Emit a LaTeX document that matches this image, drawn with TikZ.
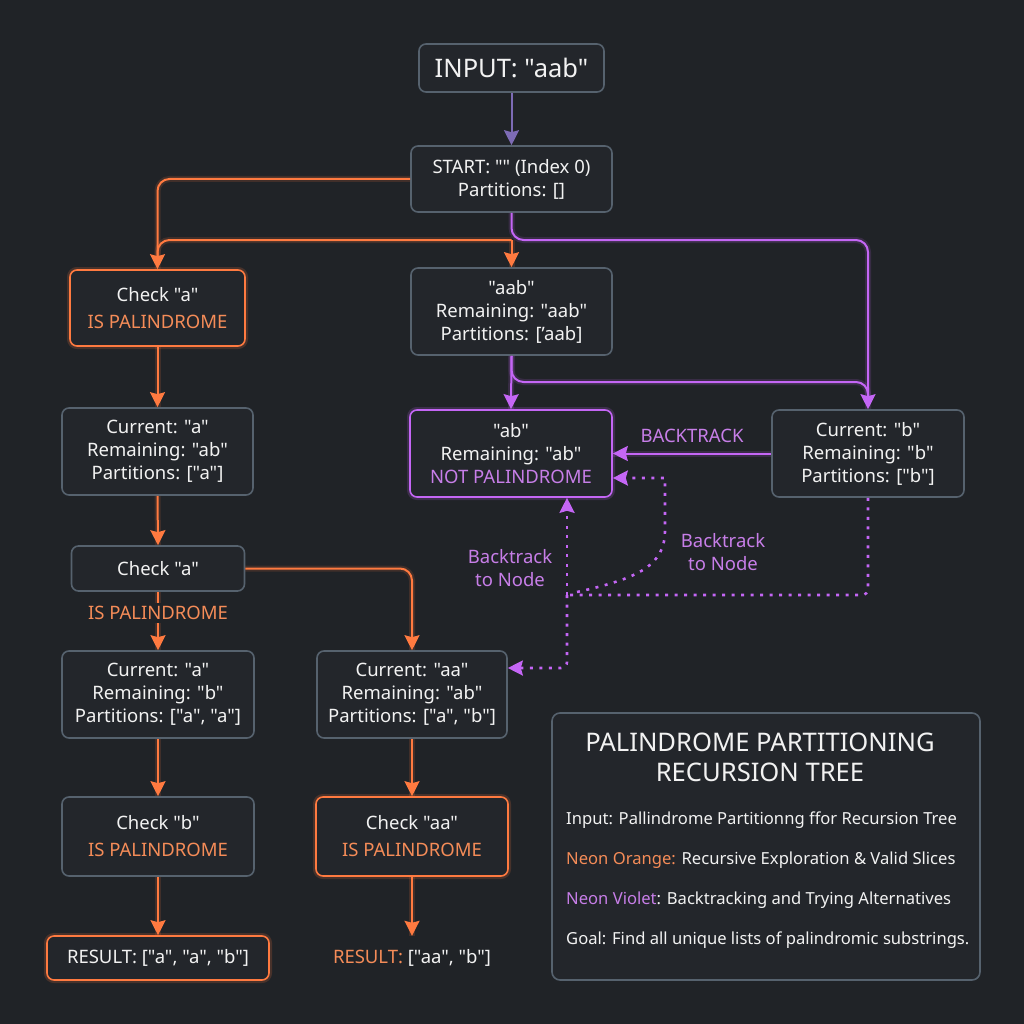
\documentclass[tikz,border=0pt]{standalone}
\usepackage{fontspec}
\setmainfont{Noto Sans}[Ligatures=TeXOff]
\usetikzlibrary{arrows.meta,calc}
\definecolor{bg}{HTML}{202327}
\definecolor{nfill}{HTML}{23262B}
\definecolor{gb}{HTML}{56626E}
\definecolor{org}{HTML}{FF7A40}
\definecolor{orgt}{HTML}{F58C58}
\definecolor{vio}{HTML}{C466F5}
\definecolor{viot}{HTML}{C77EE8}
\definecolor{mvio}{HTML}{7D6BB5}
\definecolor{txt}{HTML}{F2F2F2}
\newcommand\bodyfs{\fontsize{18.5}{23}\selectfont}
\newcommand\legfs{\fontsize{16.6}{19}\selectfont}
\tikzset{
  box/.style={draw=gb, fill=nfill, rounded corners=7pt, line width=1.6pt, align=center, text=txt, font=\bodyfs, inner sep=0pt},
  obox/.style={box, draw=org, preaction={draw=org, line width=6pt, opacity=0.18}},
  vbox/.style={box, draw=vio, preaction={draw=vio, line width=6pt, opacity=0.18}},
  tip/.style={-{Stealth[length=15pt,width=15pt,inset=2pt]}},
  oline/.style={draw=org, line width=2pt, preaction={draw=org, line width=6pt, opacity=0.15, -}},
  vline/.style={draw=vio, line width=2pt, preaction={draw=vio, line width=6pt, opacity=0.15, -}},
  vdot/.style={draw=vio, line width=2.6pt, dash pattern=on 3pt off 6.5pt},
  lbl/.style={font=\bodyfs, align=center},
}
\begin{document}
\begin{tikzpicture}[x=1pt,y=-1pt]
\fill[bg] (0,0) rectangle (1024,1024);
\useasboundingbox (0,0) rectangle (1024,1024);

% nodes
\node[box, minimum width=185pt, minimum height=48pt, font=\fontsize{25.5}{28}\selectfont] (in) at (511.5,68) {INPUT: "aab"};
\node[box, minimum width=201pt, minimum height=66pt] (st) at (511.5,179) {START: "" (Index 0)\\Partitions: []};
\node[obox, minimum width=175pt, minimum height=76pt] (ca1) at (157.5,308) {Check "a"\\[4pt]\textcolor{orgt}{IS PALINDROME}};
\node[box, minimum width=201pt, minimum height=87pt] (aab) at (511.5,311.5) {"aab"\\Remaining: "aab"\\Partitions: [’aab]};
\node[box, minimum width=191pt, minimum height=87pt] (cur1) at (157.5,451.5) {Current: "a"\\Remaining: "ab"\\Partitions: ["a"]};
\node[vbox, minimum width=202pt, minimum height=87pt] (ab) at (511,453.5) {"ab"\\Remaining: "ab"\\\textcolor{viot}{NOT PALINDROME}};
\node[box, minimum width=192pt, minimum height=87pt] (curb) at (868,453.5) {Current: "b"\\Remaining: "b"\\Partitions: ["b"]};
\node[box, minimum width=173pt, minimum height=45pt] (ca2) at (158,568.5) {Check "a"};
\node[box, minimum width=192pt, minimum height=87pt] (cur2) at (158,694.5) {Current: "a"\\Remaining: "b"\\Partitions: ["a", "a"]};
\node[box, minimum width=190pt, minimum height=87pt] (curaa) at (412,694.5) {Current: "aa"\\Remaining: "ab"\\Partitions: ["a", "b"]};
\node[box, minimum width=192pt, minimum height=79pt] (cb) at (158,836.5) {Check "b"\\[4pt]\textcolor{orgt}{IS PALINDROME}};
\node[obox, minimum width=192pt, minimum height=79pt] (caa) at (412,836.5) {Check "aa"\\[4pt]\textcolor{orgt}{IS PALINDROME}};
\node[obox, minimum width=222pt, minimum height=44pt] (res1) at (158,958) {RESULT: ["a", "a", "b"]};
\node[lbl, text=txt, minimum height=44pt] (res2) at (412,958) {\textcolor{orgt}{RESULT:} ["aa", "b"]};

% coordinates
\coordinate (j1) at (511.5,240);
\coordinate (j2) at (511.5,382);
\coordinate (j3) at (868,400);
\coordinate (j4) at (567,595);
\coordinate (j5) at (567,668);
\coordinate (j6) at (665,478);
\coordinate (j7) at (577,592);

% edges top
\draw[draw=mvio, line width=2pt, tip] (in.south) -- (st.north);
\draw[oline, tip, rounded corners=12pt] (st.west) -| (ca1.north);
\draw[oline, rounded corners=12pt] (j1) -| (157.5,262);
\draw[oline, tip] (j1) -- (aab.north);
\draw[vline, tip, rounded corners=12pt] (st.south) -- (j1) -| (curb.north);
\draw[vline, tip] (aab.south) -- (ab.north);
\draw[vline, rounded corners=12pt] (aab.south) -- (j2) -| (j3);

% left column
\draw[oline, tip] (ca1.south) -- (cur1.north);
\draw[oline, tip] (cur1.south) -- (ca2.north);
\draw[oline, tip] (ca2.south) -- node[fill=bg, text=orgt, font=\bodyfs, inner sep=3pt, pos=0.36] (isp) {IS PALINDROME} (cur2.north);
\draw[oline, tip, rounded corners=12pt] (ca2.east) -| (curaa.north);
\draw[oline, tip] (cur2.south) -- (cb.north);
\draw[oline, tip] (cb.south) -- (res1.north);
\draw[oline, tip] (curaa.south) -- (caa.north);
\draw[oline, tip] (caa.south) -- (res2.north);

% backtrack
\draw[vline, tip] (curb.west) -- node[above=6pt, text=viot, font=\bodyfs] (bt) {BACKTRACK} (ab.east);
\draw[vdot, rounded corners=6pt] (curb.south) |- (j4);
\draw[vdot, tip] (j4) -- (j4 |- ab.south);
\draw[vdot, tip, rounded corners=6pt] (j4) -- (j5) -- (j5 -| curaa.east);
\draw[vdot, tip] (j7) .. controls (640,578) and (665,565) .. (665,530) -- (j6) -- (j6 -| ab.east);
\node[lbl, text=viot] (bt1) at (510,568) {Backtrack\\to Node};
\node[lbl, text=viot] (bt2) at (723,552) {Backtrack\\to Node};

% legend
\node[draw=gb, fill=nfill, rounded corners=8pt, line width=1.6pt, minimum width=428pt, minimum height=267pt, inner sep=0pt] (leg) at (766,846.5) {};
\node[text=txt, font=\fontsize{25.6}{30}\selectfont, align=center] (lt) at (760,757) {PALINDROME PARTITIONING\\RECURSION TREE};
\node[anchor=west, text=txt, font=\legfs, inner sep=0pt] (l1) at (566,820) {Input: Pallindrome Partitionng ffor Recursion Tree};
\node[anchor=west, text=txt, font=\legfs, inner sep=0pt] (l2) at (566,860) {\textcolor{orgt}{Neon Orange:} Recursive Exploration \& Valid Slices};
\node[anchor=west, text=txt, font=\legfs, inner sep=0pt] (l3) at (566,900) {\textcolor{viot}{Neon Violet}: Backtracking and Trying Alternatives};
\node[anchor=west, text=txt, font=\legfs, inner sep=0pt] (l4) at (566,940) {Goal: Find all unique lists of palindromic substrings.};
\end{tikzpicture}
\end{document}
